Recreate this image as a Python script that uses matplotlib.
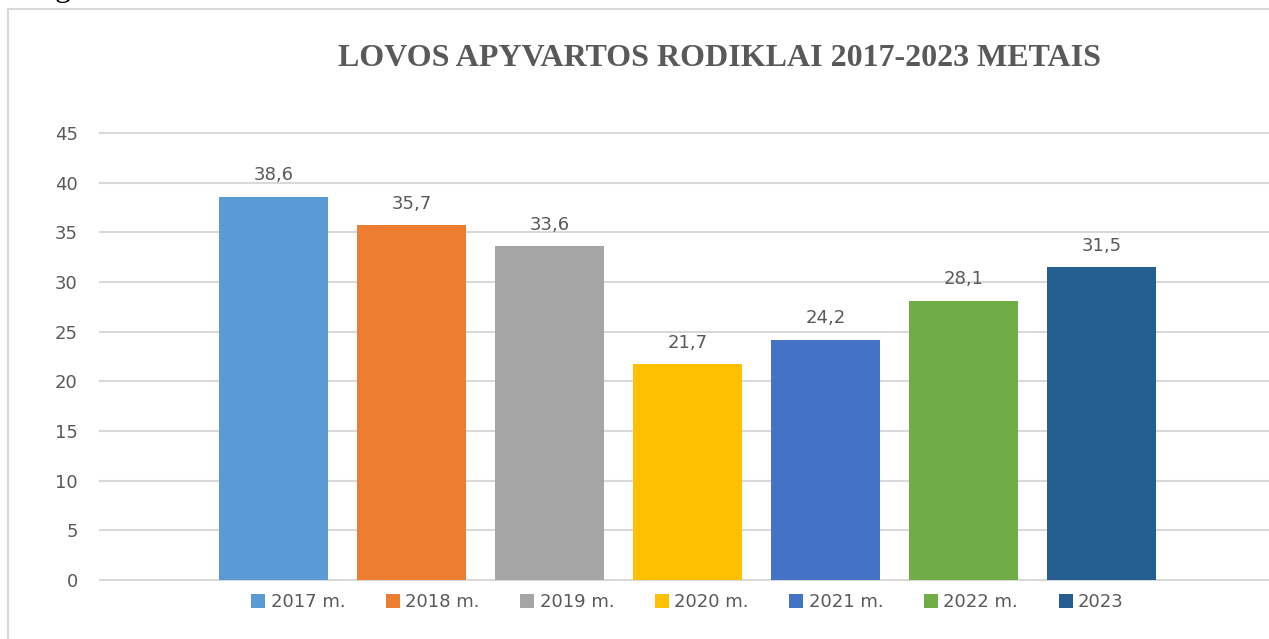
import matplotlib
matplotlib.use("Agg")
import matplotlib.pyplot as plt
from matplotlib.lines import Line2D

# duomenys
metai = ["2017 m.", "2018 m.", "2019 m.", "2020 m.", "2021 m.", "2022 m.", "2023"]
reiksmes = [38.6, 35.7, 33.6, 21.7, 24.2, 28.1, 31.5]
spalvos = ["#5B9BD5", "#ED7D31", "#A5A5A5", "#FFC000", "#4472C4", "#70AD47", "#255E91"]
yticks = [0, 5, 10, 15, 20, 25, 30, 35, 40, 45]

TXT = "#595959"
GRID = "#D9D9D9"
W, H = 1269, 639

fig = plt.figure(figsize=(W/100, H/100), dpi=100)
ax = fig.add_axes([100/W, 1-580/H, 1-100/W, (580-133)/H])

for i, (m, v, c) in enumerate(zip(metai, reiksmes, spalvos)):
    ax.bar(i, v, width=109/138, color=c, label=m, zorder=3)
    ax.annotate(f"{v:.1f}".replace(".", ","), (i, v), xytext=(0, 9), textcoords="offset points",
                ha="center", va="bottom", fontsize=13, color=TXT)

ax.set_ylim(0, 45)
ax.set_xlim(-173.5/138, -173.5/138 + 1169/138)
ax.set_yticks(yticks)
ax.set_yticklabels([str(t) for t in yticks])
ax.set_xticks([])
ax.tick_params(axis="y", length=0, pad=16, labelsize=13, labelcolor=TXT)
for s in ax.spines.values(): s.set_visible(False)
ax.grid(axis="y", color=GRID, lw=1.5, zorder=0)
for gl in ax.get_ygridlines(): gl.set_clip_on(False)
ax.set_axisbelow(True)

fig.text(720/W, 1-59/H, "LOVOS APYVARTOS RODIKLAI 2017-2023 METAIS", ha="center", va="center",
         fontsize=23, fontweight="bold", family="Liberation Serif", color=TXT)

leg = ax.legend(ncol=7, loc="center", bbox_to_anchor=(687.5/W, 1-602/H), bbox_transform=fig.transFigure,
                frameon=False, fontsize=13, handlelength=0.78, handleheight=0.78,
                handletextpad=0.3, columnspacing=2.24, labelcolor=TXT)

# remelis (tik kaire ir virsus matosi) ir nukirpta raide virsuje
fig.lines.append(Line2D([8/W, 8/W, 1.01], [-0.01, 1-9/H, 1-9/H], transform=fig.transFigure,
                        color=GRID, lw=1.5))
fig.text(55/W, 1+4/H, "g", family="Liberation Serif", fontsize=23, color="black", va="baseline")

fig.savefig("out.png", dpi=100)
